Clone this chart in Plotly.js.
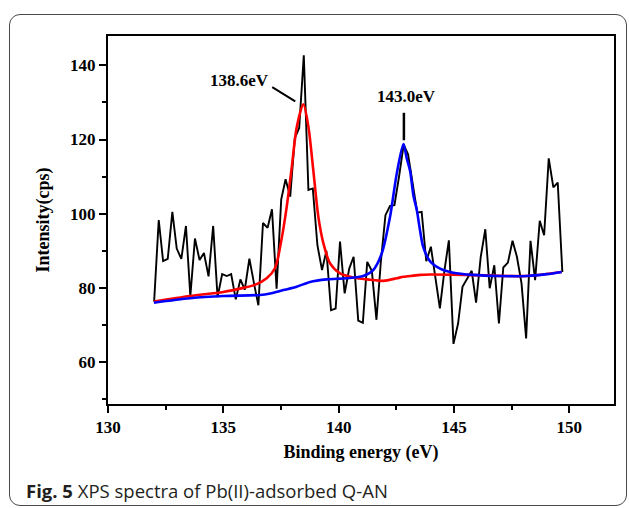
<!DOCTYPE html>
<html>
<head>
<meta charset="utf-8">
<script src="https://cdn.plot.ly/plotly-3.0.1.min.js"></script>
<style>
  html, body { margin: 0; padding: 0; background: #ffffff; }
  #wrap { position: relative; width: 629px; height: 508px; overflow: hidden; }
  #chart { position: absolute; left: 0; top: 0; width: 629px; height: 508px; }
  #frame { position: absolute; left: 9px; top: 14px; width: 616px; height: 490px;
           border: 1.5px solid #4a4a4a; border-radius: 11px; pointer-events: none; }
</style>
</head>
<body>
<div id="wrap">
  <div id="chart"></div>
  <div id="frame"></div>
</div>
<script>
// Binding energy (eV) of the measured spectrum, as placed on the axis
const energy = [
  132.00,132.20,132.39,132.59,132.79,132.98,133.18,133.38,133.57,133.77,
  133.97,134.16,134.36,134.56,134.75,134.95,135.15,135.34,135.54,135.74,
  135.93,136.13,136.33,136.52,136.72,136.92,137.11,137.31,137.51,137.70,
  137.90,138.10,138.29,138.49,138.69,138.88,139.08,139.28,139.47,139.67,
  139.87,140.06,140.26,140.46,140.65,140.85,141.05,141.24,141.44,141.64,
  141.83,142.03,142.23,142.42,142.62,142.82,143.01,143.21,143.41,143.60,
  143.80,144.00,144.19,144.39,144.59,144.78,144.98,145.18,145.37,145.57,
  145.77,145.96,146.16,146.36,146.55,146.75,146.95,147.14,147.34,147.54,
  147.73,147.93,148.13,148.32,148.52,148.72,148.91,149.11,149.31,149.50,
  149.70
];
// Measured intensity (cps)
const intensity = [
  76.3,98.3,87.2,87.8,100.5,90.6,87.8,96.7,77.8,93.3,
  87.5,89.4,83.1,96.7,77.5,83.7,83.2,83.7,76.9,82.3,
  79.5,87.9,81.2,75.3,97.5,96.2,101.2,79.8,103.8,109.3,
  104.6,120.4,123.1,142.7,106.4,106.8,91.5,84.8,90.0,74.0,
  74.4,92.5,78.5,85.2,88.4,71.2,70.6,87.0,84.6,71.4,
  87.0,99.6,102.1,102.3,110.0,118.6,116.0,108.0,100.3,100.5,
  87.2,91.1,83.0,74.5,84.8,92.8,64.9,70.4,80.3,82.5,
  84.6,76.0,88.3,95.8,79.9,86.1,70.4,85.5,86.8,92.7,
  88.4,81.2,66.4,92.7,82.1,98.1,94.2,114.9,107.1,108.4,
  84.3
];
// Fitted component at 138.6 eV (red)
const redEnergy = [131.99,133.56,135.00,135.87,136.37,136.88,137.24,137.53,137.75,137.97,138.18,138.47,138.69,138.90,139.12,139.34,139.63,140.06,140.64,141.36,141.94,142.52,142.81,143.24,143.53,143.96,145.56,148.16,149.67];
const redFit    = [76.3,77.8,78.9,80.0,80.8,82.6,85.3,93.3,101.9,112.6,123.2,129.5,123.4,111.8,99.2,92.0,86.6,83.9,82.8,82.2,81.9,82.6,83.0,83.3,83.5,83.6,83.5,83.2,84.3];
// Fitted component at 143.0 eV (blue)
const blueEnergy = [131.99,133.56,135.00,136.59,137.03,137.60,138.18,138.76,139.48,140.35,141.07,141.50,141.87,142.23,142.52,142.81,142.95,143.10,143.24,143.39,143.53,143.67,143.96,144.40,144.97,145.83,146.99,148.16,149.02,149.67];
const blueFit    = [76.0,77.2,77.8,78.1,78.5,79.4,80.3,81.6,82.3,82.6,83.2,84.8,89.3,99.2,110.8,118.8,115.0,111.5,105.0,101.0,95.5,91.0,87.2,85.2,84.1,83.5,83.2,83.2,83.7,84.3];

const xTickVals = [130,135,140,145,150];
const yTickVals = [60,80,100,120,140];
const peakLabels = ["138.6eV","143.0eV"];
const captionBold = "Fig. 5";
const captionText = " XPS spectra of Pb(II)-adsorbed Q-AN";

const serif = "Liberation Serif, Times New Roman, serif";

const traces = [
  {x: energy, y: intensity, type: 'scatter', mode: 'lines',
   line: {color: '#000000', width: 1.9}, hoverinfo: 'skip'},
  {x: redEnergy, y: redFit, type: 'scatter', mode: 'lines',
   line: {color: '#ff0000', width: 2.6, shape: 'spline', smoothing: 0.8}, hoverinfo: 'skip'},
  {x: blueEnergy, y: blueFit, type: 'scatter', mode: 'lines',
   line: {color: '#0000ff', width: 2.6, shape: 'spline', smoothing: 0.8}, hoverinfo: 'skip'}
];

const axisCommon = {
  showline: true, linecolor: '#000', linewidth: 2, mirror: true,
  ticks: 'outside', ticklen: 7, tickwidth: 2, tickcolor: '#000',
  showgrid: false, zeroline: false,
  tickfont: {family: serif, size: 17, color: '#000', weight: 'bold'}
};

const layout = {
  width: 629, height: 508,
  margin: {l: 108, r: 15, t: 36, b: 104},
  paper_bgcolor: 'rgba(0,0,0,0)', plot_bgcolor: '#ffffff',
  showlegend: false,
  xaxis: Object.assign({}, axisCommon, {
    range: [130, 151.94], tickmode: 'array', tickvals: xTickVals,
    minor: {ticks: 'outside', ticklen: 4, tickwidth: 2, tickcolor: '#000', dtick: 2.5, tick0: 130, showgrid: false},
    title: {text: 'Binding energy (eV)', font: {family: serif, size: 18, color: '#000', weight: 'bold'}, standoff: 9}
  }),
  yaxis: Object.assign({}, axisCommon, {
    range: [48.7, 147.9], tickmode: 'array', tickvals: yTickVals,
    minor: {ticks: 'outside', ticklen: 4, tickwidth: 2, tickcolor: '#000', dtick: 10, tick0: 50, showgrid: false},
    title: {text: 'Intensity(cps)', font: {family: serif, size: 18, color: '#000', weight: 'bold'}, standoff: 16}
  }),
  shapes: [
    {type: 'line', xref: 'x', yref: 'y', x0: 137.12, y0: 134.1, x1: 138.12, y1: 130.3,
     line: {color: '#000', width: 2}},
    {type: 'line', xref: 'x', yref: 'y', x0: 142.83, y0: 127.2, x1: 142.83, y1: 119.8,
     line: {color: '#000', width: 2.5}}
  ],
  annotations: [
    {xref: 'x', yref: 'y', x: 135.7, y: 136.0, text: peakLabels[0], showarrow: false,
     font: {family: serif, size: 17, color: '#000', weight: 'bold'}},
    {xref: 'x', yref: 'y', x: 142.95, y: 131.6, text: peakLabels[1], showarrow: false,
     font: {family: serif, size: 17, color: '#000', weight: 'bold'}},
    {xref: 'paper', yref: 'paper', x: -0.166, y: -0.234, xanchor: 'left', yanchor: 'middle',
     text: '<b>' + captionBold + '</b>' + captionText, showarrow: false,
     font: {family: 'Open Sans, Noto Sans, sans-serif', size: 18.5, color: '#231f20'}}
  ]
};

Plotly.newPlot('chart', traces, layout, {staticPlot: true, displayModeBar: false});
</script>
</body>
</html>
